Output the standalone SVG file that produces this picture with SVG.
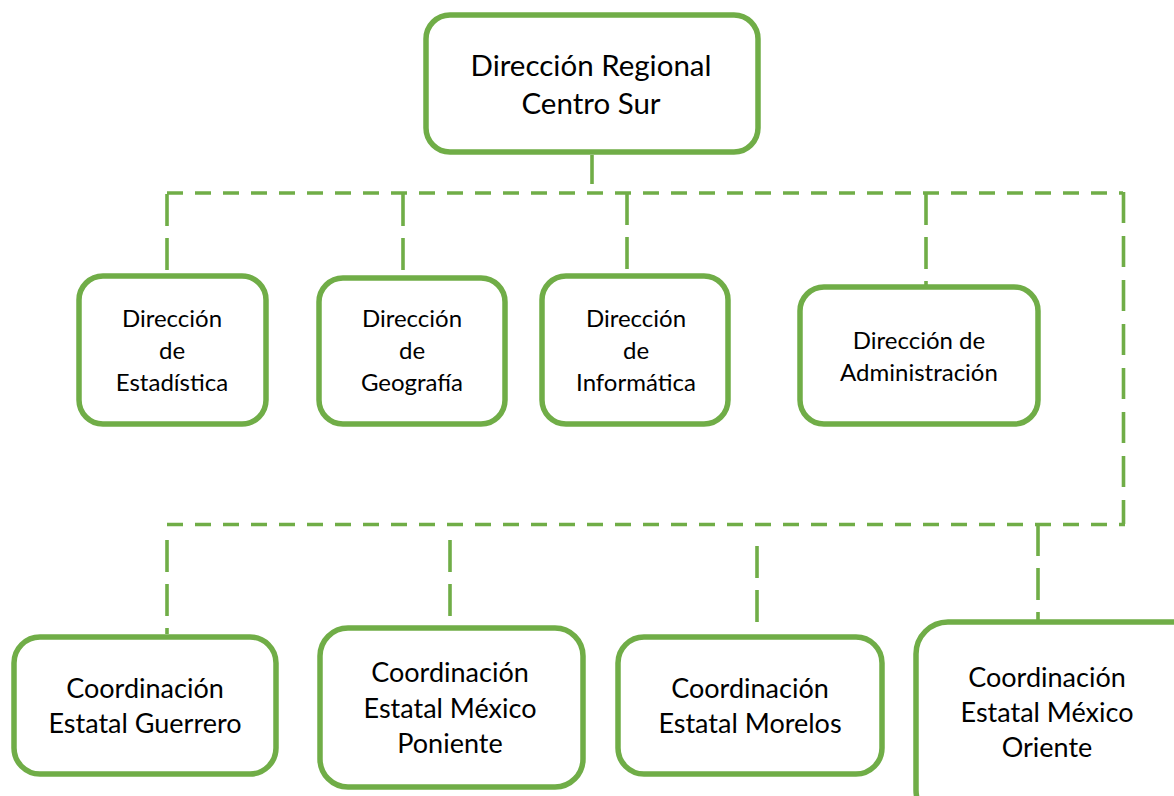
<svg xmlns="http://www.w3.org/2000/svg" width="1174" height="796" viewBox="0 0 1174 796">
<style>
.box{fill:#fff;stroke:#70AD47;stroke-width:5.5}
.c{fill:none;stroke:#70AD47;stroke-width:3.6}
.h{stroke-dasharray:16 12}
.v{stroke-dasharray:32 12}
.r{stroke-dasharray:31 13}
text{font-family:Lato,"Liberation Sans",sans-serif;fill:#000;text-anchor:middle}
.t1{font-size:29.5px}
.t2{font-size:24px}
.t3{font-size:27px}
</style>
<rect width="1174" height="796" fill="#fff"/>
<g id="connectors">
<line class="c" x1="592" y1="155" x2="592" y2="184"/>
<line class="c h" x1="167" y1="193" x2="1123" y2="193"/>
<line class="c v" x1="167" y1="194" x2="167" y2="272"/>
<line class="c v" x1="403" y1="194" x2="403" y2="272"/>
<line class="c v" x1="627" y1="193" x2="627" y2="272"/>
<line class="c v" x1="926" y1="193" x2="926" y2="287"/>
<line class="c r" x1="1123.5" y1="192" x2="1123.5" y2="524"/>
<line class="c h" x1="167" y1="524.5" x2="1125" y2="524.5"/>
<line class="c v" x1="167" y1="540" x2="167" y2="634"/>
<line class="c v" x1="450" y1="540" x2="450" y2="626"/>
<line class="c v" x1="757" y1="546" x2="757" y2="634"/>
<line class="c v" x1="1038" y1="524" x2="1038" y2="620"/>
</g>
<g id="n-regional">
<rect class="box" x="426" y="15" width="332" height="137" rx="24"/>
<text class="t1" x="591" y="76">Dirección Regional</text>
<text class="t1" x="591" y="114">Centro Sur</text>
</g>
<g id="n-estadistica">
<rect class="box" x="79" y="276" width="187" height="148" rx="24"/>
<text class="t2" x="172" y="327">Dirección</text>
<text class="t2" x="172" y="359">de</text>
<text class="t2" x="172" y="391">Estadística</text>
</g>
<g id="n-geografia">
<rect class="box" x="319" y="278" width="186" height="146" rx="24"/>
<text class="t2" x="412" y="327">Dirección</text>
<text class="t2" x="412" y="359">de</text>
<text class="t2" x="412" y="391">Geografía</text>
</g>
<g id="n-informatica">
<rect class="box" x="542" y="276" width="186" height="148" rx="24"/>
<text class="t2" x="636" y="327">Dirección</text>
<text class="t2" x="636" y="359">de</text>
<text class="t2" x="636" y="391">Informática</text>
</g>
<g id="n-administracion">
<rect class="box" x="800" y="287" width="238" height="137" rx="24"/>
<text class="t2" x="919" y="349">Dirección de</text>
<text class="t2" x="919" y="381">Administración</text>
</g>
<g id="n-guerrero">
<rect class="box" x="14" y="637" width="262" height="137" rx="26"/>
<text class="t3" x="145" y="698">Coordinación</text>
<text class="t3" x="145" y="733">Estatal Guerrero</text>
</g>
<g id="n-mexico-poniente">
<rect class="box" x="320" y="628" width="263" height="159" rx="28"/>
<text class="t3" x="450" y="682">Coordinación</text>
<text class="t3" x="450" y="718">Estatal México</text>
<text class="t3" x="450" y="753">Poniente</text>
</g>
<g id="n-morelos">
<rect class="box" x="618" y="637" width="264" height="137" rx="26"/>
<text class="t3" x="750" y="698">Coordinación</text>
<text class="t3" x="750" y="733">Estatal Morelos</text>
</g>
<g id="n-mexico-oriente">
<rect class="box" x="916" y="622" width="290" height="200" rx="32"/>
<text class="t3" x="1047" y="687">Coordinación</text>
<text class="t3" x="1047" y="722">Estatal México</text>
<text class="t3" x="1047" y="757">Oriente</text>
</g>
</svg>
